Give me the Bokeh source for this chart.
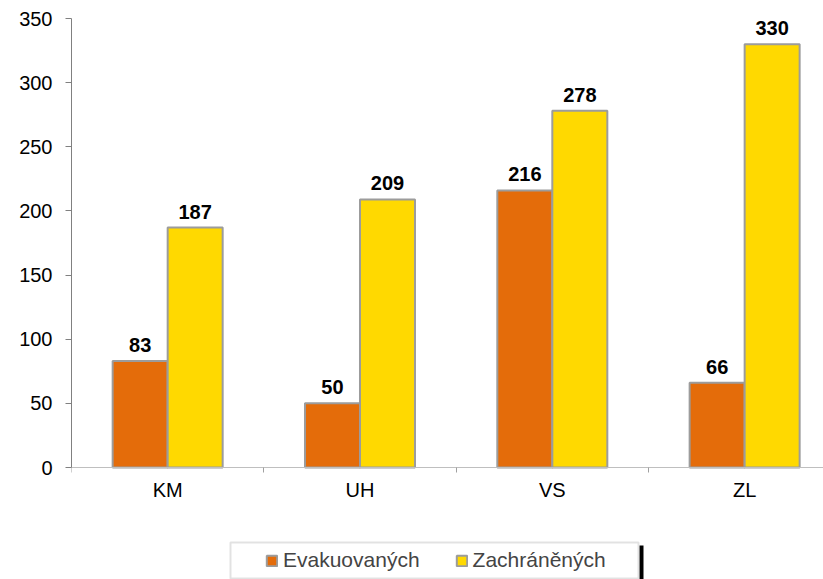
import numpy as np
from bokeh.plotting import figure
from bokeh.models import Range1d, FixedTicker, Legend, BoxAnnotation, LinearAxis
from bokeh.core.properties import value
from bokeh.embed import file_html
from bokeh.resources import INLINE

categories = ["KM", "UH", "VS", "ZL"]
evakuovanych = [83, 50, 216, 66]
zachranenych = [187, 209, 278, 330]
y_ticks = [0, 50, 100, 150, 200, 250, 300, 350]

FONT = "Liberation Sans"
ORANGE = "#E46C0A"
YELLOW = "#FFD900"
EDGE = "#9C9C9C"

idx = np.arange(len(categories))
off = 0.143
bw = 0.286

p = figure(width=823, height=579, output_backend="svg", toolbar_location=None,
           x_range=Range1d(-0.5, 3.41), y_range=Range1d(-87.3, 357.8),
           min_border_left=71, min_border_right=0, min_border_top=8, min_border_bottom=0,
           x_axis_type=None, y_axis_type=None)
p.outline_line_color = None
p.grid.visible = False

r1 = p.vbar(x=idx - off, top=evakuovanych, width=bw, fill_color=ORANGE,
            line_color=EDGE, line_width=2)
r2 = p.vbar(x=idx + off, top=zachranenych, width=bw, fill_color=YELLOW,
            line_color=EDGE, line_width=2)

for xs, vals in ((idx - off, evakuovanych), (idx + off, zachranenych)):
    p.text(x=xs, y=vals, text=[str(v) for v in vals], y_offset=-16,
           text_align="center", text_baseline="alphabetic",
           text_font=value(FONT), text_font_size="20px", text_font_style="bold",
           text_color="black")

# y axis
yaxis = LinearAxis(ticker=FixedTicker(ticks=y_ticks, minor_ticks=[]), bounds=(0, 350))
yaxis.axis_line_color = "#808080"
yaxis.axis_line_width = 1
yaxis.major_tick_line_color = "#808080"
yaxis.major_tick_out = 6
yaxis.major_tick_in = 0
yaxis.minor_tick_out = 0
yaxis.major_label_standoff = 13
yaxis.major_label_text_font = FONT
yaxis.major_label_text_font_size = "20px"
yaxis.major_label_text_color = "black"
p.add_layout(yaxis, "left")

# x axis, fixed at y = 0
xaxis = LinearAxis(ticker=FixedTicker(ticks=list(idx), minor_ticks=[-0.5, 0.5, 1.5, 2.5, 3.5]),
                   fixed_location=0)
xaxis.major_label_overrides = {int(i): c for i, c in zip(idx, categories)}
xaxis.axis_line_color = "#BFBFBF"
xaxis.axis_line_width = 1
xaxis.major_tick_out = 0
xaxis.major_tick_in = 0
xaxis.minor_tick_line_color = "#A0A0A0"
xaxis.minor_tick_out = 5
xaxis.minor_tick_in = 0
xaxis.major_label_standoff = 6
xaxis.major_label_text_font = FONT
xaxis.major_label_text_font_size = "20px"
xaxis.major_label_text_color = "black"
p.add_layout(xaxis, "below")

# legend box and shadow
shadow = BoxAnnotation(left=639, right=643, top=545, bottom=579,
                       left_units="canvas", right_units="canvas",
                       top_units="canvas", bottom_units="canvas",
                       fill_color="black", fill_alpha=1.0, line_color=None)
box = BoxAnnotation(left=230, right=638, top=542, bottom=578,
                    left_units="canvas", right_units="canvas",
                    top_units="canvas", bottom_units="canvas",
                    fill_color="white", fill_alpha=1.0,
                    line_color="#A0A0A0", line_width=2)
p.add_layout(shadow)
p.add_layout(box)

legend = Legend(items=[("Evakuovaných", [r1]), ("Zachráněných", [r2])],
                orientation="horizontal", location=(194, 7), padding=0, spacing=35,
                glyph_width=13, glyph_height=13, label_standoff=5, margin=0,
                border_line_color=None, background_fill_alpha=0,
                label_text_font=FONT, label_text_font_size="21px")
p.add_layout(legend, "center")

open("out.html", "w").write(file_html(p, INLINE))
